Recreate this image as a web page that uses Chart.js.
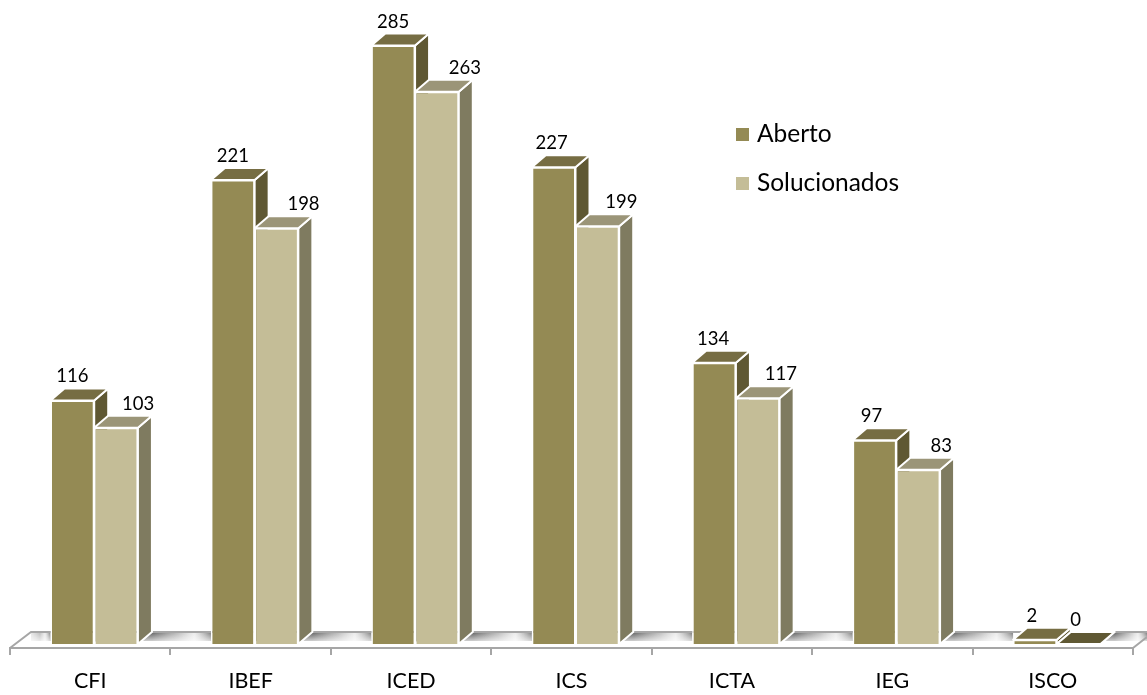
<!DOCTYPE html>
<html>
<head>
<meta charset="utf-8">
<title>Chamados por unidade</title>
<script src="https://cdn.jsdelivr.net/npm/chart.js@4/dist/chart.umd.js"></script>
<style>
  body { margin: 0; background: #fff; }
  canvas { display: block; }
</style>
</head>
<body>
<canvas id="chart" width="1147" height="695"></canvas>
<script>
const categories = ["CFI", "IBEF", "ICED", "ICS", "ICTA", "IEG", "ISCO"];
const aberto = [116, 221, 285, 227, 134, 97, 2];
const solucionados = [103, 198, 263, 199, 117, 83, 0];

// small nudges for the value labels, they do not sit centred on the bars
const abertoLabelShift = [0, 0, 0, -2, -1, -3, -3];
const solucionadosLabelShift = [22, 27, 28, 24, 23, 23, -3];

const FONT = "Lato, 'Open Sans', sans-serif";
const DEPTH_X = 14;
const DEPTH_Y = 12;
const BAR_SHIFT = 4; // bars sit a little right of the category centre

const faces = [
  { front: "#948a54", side: "#5f5833", top: "#766d43" },
  { front: "#c4bd97", side: "#7f7b60", top: "#9b9578" }
];

function poly(ctx, pts, fill) {
  ctx.beginPath();
  pts.forEach((p, i) => i ? ctx.lineTo(p[0], p[1]) : ctx.moveTo(p[0], p[1]));
  ctx.closePath();
  ctx.fillStyle = fill;
  ctx.fill();
  ctx.stroke();
}

const bars3d = {
  id: "bars3d",
  beforeDatasetsDraw(chart) {
    const ctx = chart.ctx;
    const area = chart.chartArea;
    const floorTop = area.bottom - 16;
    const m0 = chart.getDatasetMeta(0).data;
    const m1 = chart.getDatasetMeta(1).data;

    // floor: gaps between the groups get a soft grey band
    ctx.save();
    const gaps = [[area.left + 21, m0[0].x - m0[0].width / 2 + BAR_SHIFT]];
    m0.forEach((b, i) => {
      const start = m1[i].x + m1[i].width / 2 + BAR_SHIFT + DEPTH_X;
      const end = i < m0.length - 1 ? m0[i + 1].x - m0[i + 1].width / 2 + BAR_SHIFT : chart.width;
      gaps.push([start, end]);
    });
    gaps.forEach((g, i) => {
      const band = () => {
        ctx.beginPath();
        ctx.moveTo(g[0], floorTop);
        ctx.lineTo(g[1], floorTop);
        ctx.lineTo(g[1], floorTop + 9);
        ctx.lineTo(g[0] - (i ? 10 : 0), floorTop + 9);
        ctx.closePath();
        ctx.fill();
      };
      const grad = ctx.createLinearGradient(g[0], 0, g[1], 0);
      grad.addColorStop(0, i ? "rgba(95,95,95,1)" : "rgba(190,190,190,0.4)");
      grad.addColorStop(0.45, "rgba(170,170,170,0.8)");
      grad.addColorStop(0.72, "rgba(215,215,215,0.5)");
      grad.addColorStop(1, "rgba(120,120,120,1)");
      ctx.fillStyle = grad;
      band();
      const fade = ctx.createLinearGradient(0, floorTop, 0, floorTop + 9);
      fade.addColorStop(0, "rgba(255,255,255,0)");
      fade.addColorStop(1, "rgba(255,255,255,0.7)");
      ctx.fillStyle = fade;
      band();
    });
    ctx.strokeStyle = "#a6a6a6";
    ctx.lineWidth = 2;
    ctx.beginPath();
    ctx.moveTo(area.left, area.bottom);
    ctx.lineTo(area.left + 21, floorTop);
    ctx.lineTo(chart.width, floorTop);
    ctx.moveTo(area.right, area.bottom);
    ctx.lineTo(chart.width, area.bottom - 11);
    ctx.stroke();
    ctx.restore();

    // side and top faces, the fronts are the normal chart.js bars
    ctx.save();
    ctx.translate(BAR_SHIFT, 0);
    ctx.strokeStyle = "#fff";
    ctx.lineWidth = 2;
    ctx.lineJoin = "round";
    categories.forEach((c, i) => {
      [m0[i], m1[i]].forEach((b, s) => {
        const x0 = b.x - b.width / 2;
        const x1 = b.x + b.width / 2;
        const flat = b.base - b.y < 1; // empty bar shows only a dark lid
        poly(ctx, [[x1, b.y], [x1 + DEPTH_X, b.y - DEPTH_Y], [x1 + DEPTH_X, b.base - DEPTH_Y], [x1, b.base]], faces[s].side);
        poly(ctx, [[x0, b.y], [x0 + DEPTH_X, b.y - DEPTH_Y], [x1 + DEPTH_X, b.y - DEPTH_Y], [x1, b.y]], flat ? faces[0].side : faces[s].top);
      });
    });
    ctx.restore();

    // fronts get the same shift
    ctx.save();
    ctx.translate(BAR_SHIFT, 0);
  },
  afterDatasetsDraw(chart) {
    const ctx = chart.ctx;
    ctx.restore();

    ctx.save();
    ctx.fillStyle = "#000";
    ctx.font = "18.5px " + FONT;
    ctx.textAlign = "center";
    ctx.textBaseline = "middle";
    [[aberto, abertoLabelShift], [solucionados, solucionadosLabelShift]].forEach((s, d) => {
      const meta = chart.getDatasetMeta(d).data;
      s[0].forEach((v, i) => {
        ctx.fillText(String(v), meta[i].x + BAR_SHIFT + s[1][i], meta[i].y - 24);
      });
    });

    // legend sits inside the plot, so it is drawn here
    ctx.textAlign = "left";
    ctx.font = "24.5px " + FONT;
    chart.data.datasets.forEach((ds, i) => {
      const y = 134.5 + i * 49;
      ctx.fillStyle = ds.backgroundColor;
      ctx.fillRect(736, y - 6.5, 13, 13);
      ctx.fillStyle = "#000";
      ctx.fillText(ds.label, 757, y);
    });
    ctx.restore();
  }
};

new Chart(document.getElementById("chart"), {
  type: "bar",
  data: {
    labels: categories,
    datasets: [
      { label: "Aberto", data: aberto, backgroundColor: faces[0].front },
      { label: "Solucionados", data: solucionados, backgroundColor: faces[1].front }
    ]
  },
  options: {
    responsive: false,
    animation: false,
    layout: { padding: { left: 10, right: 14 } },
    datasets: {
      bar: {
        categoryPercentage: 0.545,
        barPercentage: 1,
        borderColor: "#fff",
        borderWidth: 1.5
      }
    },
    plugins: {
      legend: { display: false },
      tooltip: { enabled: false }
    },
    scales: {
      y: { display: false, min: -1.9, max: 306.7 },
      x: {
        afterFit(scale) { scale.height = 47; },
        border: { color: "#a6a6a6", width: 2 },
        grid: { drawOnChartArea: false, color: "#a6a6a6", lineWidth: 2, tickLength: 7 },
        ticks: {
          color: "#000",
          font: { family: FONT, size: 21.5 },
          padding: 13,
          maxRotation: 0
        }
      }
    }
  },
  plugins: [bars3d]
});
</script>
</body>
</html>
